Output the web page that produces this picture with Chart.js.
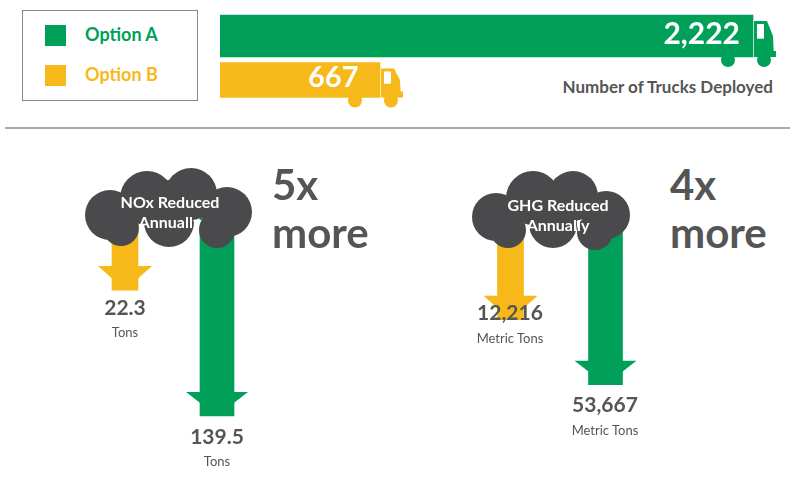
<!DOCTYPE html>
<html><head><meta charset="utf-8">
<script src="https://cdn.jsdelivr.net/npm/chart.js@4"></script>
<style>
body{margin:0;width:800px;height:478px;background:#fff;position:relative;overflow:hidden;font-family:Lato,"Open Sans",sans-serif;font-weight:700}
.c{position:absolute}
.t{position:absolute;white-space:nowrap;color:#555}
.ctr{transform:translateX(-50%);text-align:center}
</style></head><body>
<div style="position:absolute;left:22px;top:10px;width:174px;height:89px;border:1.5px solid #888"></div>
<div style="position:absolute;left:45px;top:25px;width:21px;height:21px;background:#00a059"></div>
<div style="position:absolute;left:45px;top:65px;width:21px;height:21px;background:#f7b91a"></div>
<div class="t" style="left:85px;top:23px;font-size:18px;color:#00a059">Option A</div>
<div class="t" style="left:85px;top:63px;font-size:18px;color:#f7b91a">Option B</div>
<div style="position:absolute;left:5px;top:127px;width:785px;height:2px;background:#aaa"></div>
<div class="t" style="right:27px;top:76px;font-size:17px">Number of Trucks Deployed</div>
<canvas id="trucks" class="c" style="left:220px;top:14px;width:580px;height:100px"></canvas>
<canvas id="nox" class="c" style="left:79px;top:160px;width:184px;height:320px"></canvas>
<canvas id="ghg" class="c" style="left:462.5px;top:160px;width:190px;height:320px"></canvas>
<div class="t" style="right:60px;top:14px;font-size:30px;color:#fff">2,222</div>
<div class="t" style="left:308px;top:58px;font-size:29px;color:#fff">667</div>
<div class="t ctr" style="left:170px;top:192px;font-size:16px;color:#fff;line-height:20px">NOx Reduced<br>Annually</div>
<div class="t ctr" style="left:558px;top:195px;font-size:16px;color:#fff;line-height:20px">GHG Reduced<br>Annually</div>
<div class="t" style="left:272px;top:160px;font-size:42px;line-height:48px">5x<br>more</div>
<div class="t" style="left:670px;top:160px;font-size:42px;line-height:48px">4x<br>more</div>
<div class="t ctr" style="left:125px;top:294px;font-size:21px">22.3</div>
<div class="t ctr" style="left:125px;top:324px;font-size:13px;font-weight:400">Tons</div>
<div class="t ctr" style="left:217px;top:423px;font-size:21px">139.5</div>
<div class="t ctr" style="left:217px;top:453px;font-size:13px;font-weight:400">Tons</div>
<div class="t ctr" style="left:510px;top:299px;font-size:21px">12,216</div>
<div class="t ctr" style="left:510px;top:330px;font-size:13px;font-weight:400">Metric Tons</div>
<div class="t ctr" style="left:605px;top:391px;font-size:21px">53,667</div>
<div class="t ctr" style="left:605px;top:422px;font-size:13px;font-weight:400">Metric Tons</div>
<script>
const options = ["Option A","Option B"];
const colors = ["#00a059","#f7b91a"];
const trucks = [2222, 667];
const noxTons = [22.3, 139.5];       // [Option B, Option A]
const ghgTons = [12216, 53667];      // [Option B, Option A]
const arrowOrder = ["Option B","Option A"];

const truckPlugin = {id:'truck', afterDatasetsDraw(ch){
  const ctx=ch.ctx;
  ch.data.datasets.forEach((ds,i)=>{
    ch.getDatasetMeta(i).data.forEach((b,j)=>{
      if(ds.data[j]==null) return;
      const h=b.height, top=b.y-h/2, bot=b.y+h/2, x=b.x;
      ctx.fillStyle=ds.backgroundColor;
      ctx.beginPath();
      ctx.moveTo(x+1,top+6);ctx.lineTo(x+14,top+6);ctx.lineTo(x+20,top+h*0.5);
      ctx.lineTo(x+21,bot);ctx.lineTo(x+1,bot);ctx.closePath();ctx.fill();
      ctx.fillStyle='#fff';
      ctx.fillRect(x+4,top+9,7,h*0.35);
      ctx.fillStyle=ds.backgroundColor;
      ctx.fillRect(x+19,bot-6,4,6);
      [x-25,x+11].forEach(cx=>{ctx.beginPath();ctx.arc(cx,bot+3,7,0,Math.PI*2);ctx.fill();});
    });
  });
}};
new Chart(document.getElementById('trucks'),{type:'bar',
  data:{labels:options,datasets:[
    {data:[trucks[0],null],backgroundColor:colors[0],barThickness:42,grouped:false},
    {data:[null,trucks[1]],backgroundColor:colors[1],barThickness:35,grouped:false}]},
  options:{indexAxis:'y',responsive:false,animation:false,
    layout:{padding:{top:0,bottom:12}},
    plugins:{legend:{display:false},tooltip:{enabled:false}},
    scales:{x:{display:false,min:0,max:2418},y:{display:false}}},
  plugins:[truckPlugin]});

function cloudPlugin(circles){return {id:'cloud',afterDatasetsDraw(ch){
  const ctx=ch.ctx;
  ch.data.datasets.forEach((ds,i)=>{
    ch.getDatasetMeta(i).data.forEach((b,j)=>{
      if(ds.data[j]==null) return;
      const hw=b.width/2+14, hl=24;
      ctx.fillStyle=ds.backgroundColor;
      ctx.beginPath();ctx.moveTo(b.x-hw,b.y-hl);ctx.lineTo(b.x+hw,b.y-hl);ctx.lineTo(b.x,b.y);ctx.closePath();ctx.fill();
    });
  });
  ctx.fillStyle='#4a4a4c';
  circles.forEach(c=>{ctx.beginPath();ctx.arc(c[0],c[1],c[2],0,Math.PI*2);ctx.fill();});
}};}
function arrowChart(id,vals,min,max,base,circles){
  new Chart(document.getElementById(id),{type:'bar',
    data:{labels:arrowOrder,datasets:[
      {data:[[base,vals[0]],null],backgroundColor:colors[1],barThickness:26,grouped:false,borderSkipped:false},
      {data:[null,[base,vals[1]]],backgroundColor:colors[0],barThickness:34,grouped:false,borderSkipped:false}]},
    options:{responsive:false,animation:false,layout:{padding:0},
      plugins:{legend:{display:false},tooltip:{enabled:false}},
      scales:{x:{display:false,offset:true},y:{display:false,type:'logarithmic',reverse:true,min:min,max:max}}},
    plugins:[cloudPlugin(circles)]});
}
const noxCloud=[[31,55,25],[68,38,27],[112,34,26],[148,52,25],[90,62,25],[42,68,18],[138,70,18],[90,45,25]];
const ghgCloud=[[33,57,24],[70,38,27],[110,36,25],[143,55,24],[90,64,24],[45,70,18],[132,72,18],[92,48,25]];
arrowChart('nox',noxTons,3.35,355,7,noxCloud);
arrowChart('ghg',ghgTons,320,471000,1000,ghgCloud);
</script>
</body></html>
